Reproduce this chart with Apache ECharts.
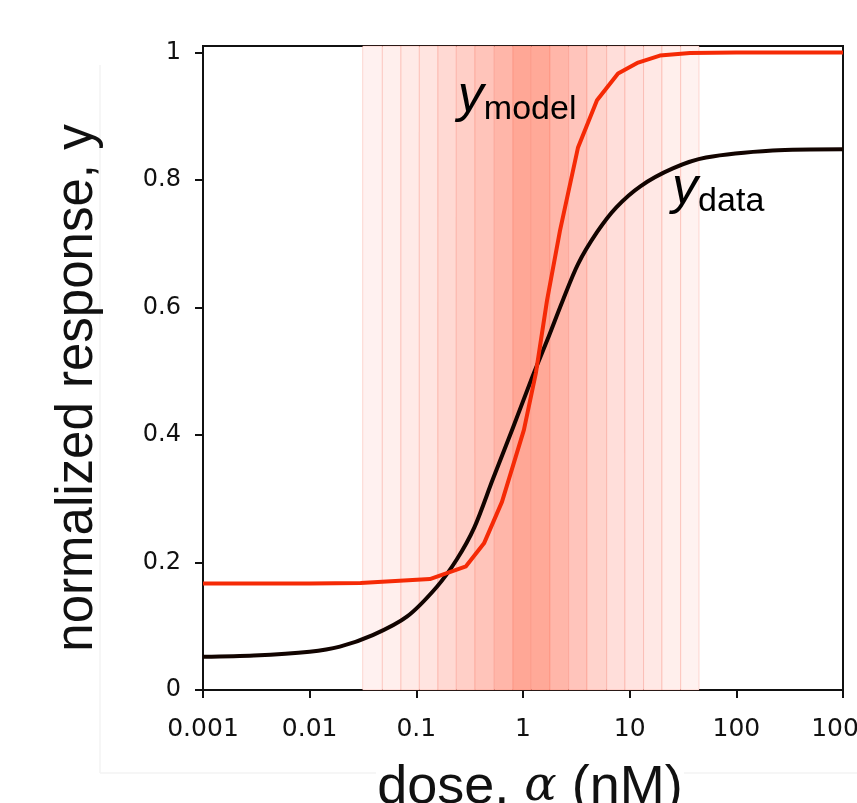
<!DOCTYPE html>
<html>
<head>
<meta charset="utf-8">
<script src="https://cdn.jsdelivr.net/npm/echarts@6/dist/echarts.min.js"></script>
<style>
  html, body { margin: 0; padding: 0; background: #fff; }
  #main { width: 857px; height: 803px; }
</style>
</head>
<body>
<div id="main"></div>
<script>
// measured response (black) and model (red), dose in nM
var doseData = [0.001, 0.003, 0.01, 0.0192, 0.039, 0.0815, 0.156, 0.24, 0.35, 0.52, 0.8, 1.21, 1.7, 2.36, 3.28, 4.94, 7.5, 12.6, 25.4, 52, 219, 1000];
var yData    = [0.052, 0.054, 0.060, 0.068, 0.086, 0.115, 0.162, 0.205, 0.255, 0.33, 0.41, 0.489, 0.55, 0.611, 0.668, 0.718, 0.757, 0.79, 0.818, 0.835, 0.846, 0.848];

var doseModel = [0.001, 0.01, 0.03, 0.134, 0.292, 0.431, 0.635, 1.02, 1.32, 1.68, 2.22, 3.28, 4.94, 7.78, 12, 19.2, 36.8, 100, 1000];
var yModel    = [0.167, 0.167, 0.168, 0.174, 0.194, 0.23, 0.295, 0.408, 0.497, 0.611, 0.72, 0.851, 0.925, 0.967, 0.984, 0.995, 0.999, 1.0, 1.0];

// shaded dose bins (edges in nM) and their tint
var bandEdges = [0.0314, 0.048, 0.0718, 0.1067, 0.1596, 0.237, 0.355, 0.538, 0.805, 1.196, 1.79, 2.68, 3.98, 6.09, 9.04, 13.5, 20.1, 30.1, 44.7];
var bandShades = ['#fff1f0', '#ffefed', '#ffeae7', '#ffe4e0', '#ffd9d3', '#ffcfc7', '#ffc4ba', '#ffb6a9', '#ffa796',
                  '#ffa998', '#ffb6a9', '#ffc4bb', '#ffd3cc', '#ffdeda', '#ffe3e0', '#ffe8e5', '#ffefec', '#fff2f0'];

var yTicks = [0, 0.2, 0.4, 0.6, 0.8, 1];

function pairs(xs, ys) {
    var out = [];
    for (var i = 0; i < xs.length; i++) out.push([xs[i], ys[i]]);
    return out;
}

var bands = [];
for (var i = 0; i < bandShades.length; i++) {
    bands.push([
        {xAxis: bandEdges[i], itemStyle: {color: bandShades[i], borderColor: 'rgba(245,90,70,0.22)', borderWidth: 1}},
        {xAxis: bandEdges[i + 1]}
    ]);
}

var myChart = echarts.init(document.getElementById('main'));
myChart.setOption({
    animation: false,
    grid: {
        left: 203, right: 14, top: 46, bottom: 113,
        outerBoundsMode: 'none',
        containLabel: false,
        show: true, borderColor: '#111', borderWidth: 2
    },
    xAxis: {
        type: 'log',
        logBase: 10,
        min: 0.001,
        max: 1000,
        name: '{n|dose, }{a|α}{n| (nM)}',
        nameLocation: 'middle',
        nameGap: 71,
        nameTextStyle: {
            padding: [0, 0, 0, 14],
            rich: {
                n: {fontFamily: 'Liberation Sans', fontSize: 54, color: '#111'},
                a: {fontFamily: 'DejaVu Serif', fontStyle: 'italic', fontSize: 48, color: '#111'}
            }
        },
        axisLine: {lineStyle: {color: '#111', width: 2}},
        axisTick: {length: 8, lineStyle: {color: '#111', width: 2}},
        axisLabel: {
            margin: 27,
            fontFamily: 'DejaVu Sans',
            fontSize: 25,
            color: '#111',
            formatter: function (v) { return String(+v.toPrecision(3)); }
        },
        splitLine: {show: false},
        minorTick: {show: false}
    },
    yAxis: {
        type: 'value',
        min: 0,
        max: 1.01,
        name: 'normalized response, y',
        nameLocation: 'middle',
        nameRotate: 90,
        nameGap: 100,
        nameTextStyle: {fontFamily: 'Liberation Sans', fontSize: 51, color: '#111', padding: [0, 40, 0, 0]},
        axisLine: {show: true, lineStyle: {color: '#111', width: 2}},
        axisTick: {show: true, length: 8, customValues: yTicks, lineStyle: {color: '#111', width: 2}},
        axisLabel: {
            customValues: yTicks,
            margin: 22,
            fontFamily: 'DejaVu Sans',
            fontSize: 24,
            color: '#111'
        },
        splitLine: {show: false}
    },
    series: [
        {
            name: 'bins',
            type: 'line',
            data: [],
            z: 1,
            silent: true,
            markArea: {silent: true, data: bands}
        },
        {
            name: 'y_data',
            type: 'line',
            data: pairs(doseData, yData),
            smooth: 0.3,
            showSymbol: false,
            z: 3,
            lineStyle: {color: '#120400', width: 4, join: 'round'}
        },
        {
            name: 'y_model',
            type: 'line',
            data: pairs(doseModel, yModel),
            showSymbol: false,
            z: 4,
            lineStyle: {color: '#f52a06', width: 4, join: 'round'}
        }
    ]
});

// curve labels, placed in data coordinates
var pModel = myChart.convertToPixel({gridIndex: 0}, [0.245, 0.89]);
var pData = myChart.convertToPixel({gridIndex: 0}, [25, 0.745]);
function curveLabel(p, sub, color) {
    return {
        type: 'text',
        x: p[0],
        y: p[1],
        z: 10,
        style: {
            text: '{y|y}{s|' + sub + '}',
            align: 'left',
            verticalAlign: 'bottom',
            rich: {
                y: {fontFamily: 'Liberation Sans', fontStyle: 'italic', fontSize: 52, lineHeight: 52, color: color, verticalAlign: 'bottom'},
                s: {fontFamily: 'Liberation Sans', fontSize: 34, lineHeight: 34, color: color, verticalAlign: 'bottom', padding: [0, 0, -4, 0]}
            }
        }
    };
}
myChart.setOption({
    graphic: [
        curveLabel(pModel, 'model', '#3a0800'),
        curveLabel(pData, 'data', '#0a0a0a'),
        {type: 'line', z: -1, shape: {x1: 100, y1: 65, x2: 100, y2: 773}, style: {stroke: '#f3f3f3', lineWidth: 1.5}},
        {type: 'line', z: -1, shape: {x1: 100, y1: 773, x2: 376, y2: 773}, style: {stroke: '#f3f3f3', lineWidth: 1.5}},
        {type: 'line', z: -1, shape: {x1: 684, y1: 773, x2: 857, y2: 773}, style: {stroke: '#f3f3f3', lineWidth: 1.5}}
    ]
});
</script>
</body>
</html>
